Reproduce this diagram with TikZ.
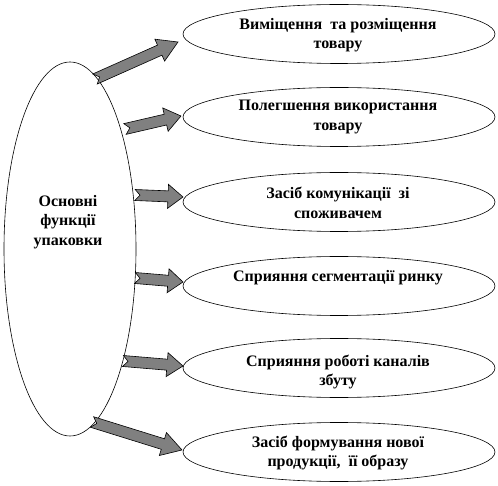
\documentclass[tikz,border=0pt]{standalone}
\usepackage{fontspec}
\setmainfont{Liberation Serif}
\usetikzlibrary{calc,shapes.geometric}
\definecolor{arrgray}{RGB}{128,128,128}
\newcommand\blockarrow[5]{%
  \coordinate (hb) at ($(#2)!#5!(#1)$);
  \coordinate (nt) at ($(#1)!5pt!(#2)$);
  \draw[barr] ($(#1)!#3!90:(#2)$) -- ($(hb)!#3!-90:(#1)$) -- ($(hb)!#4!-90:(#1)$) -- (#2)
    -- ($(hb)!#4!90:(#1)$) -- ($(hb)!#3!90:(#1)$) -- ($(#1)!#3!-90:(#2)$) -- (nt) -- cycle;}
\begin{document}
\begin{tikzpicture}[x=1pt,y=-1pt,
  lbl/.style={font=\bfseries\fontsize{16}{19.5}\selectfont, align=center, inner sep=0pt},
  oval/.style={draw, ellipse, fill=white, line width=0.6pt, minimum width=312pt, minimum height=59pt, inner sep=0pt},
  barr/.style={draw=black, fill=arrgray, line width=0.6pt, line join=miter}]
\useasboundingbox (0,0) rectangle (498,486);
% main ellipse
\node[oval, minimum width=132pt, minimum height=374pt] (main) at (70,249) {};
\node[lbl] (mt) at (68,222) {Основні\\функції\\упаковки};
% right ellipses
\node[oval] (e1) at (339,34) {};
\node[oval] (e2) at (339,117) {};
\node[oval] (e3) at (339,202) {};
\node[oval] (e4) at (339,286) {};
\node[oval] (e5) at (339,368) {};
\node[oval] (e6) at (339,452) {};
\node[lbl] (t1) at (338,35) {Виміщення \ та розміщення\\товару};
\node[lbl] (t2) at (338,117) {Полегшення використання\\товару};
\node[lbl] (t3) at (338,203) {Засіб комунікації \ зі\\споживачем};
\node[lbl] (t4) at (338,278) {Сприяння сегментації ринку};
\node[lbl] (t5) at (338,372) {Сприяння роботі каналів\\збуту};
\node[lbl] (t6) at (338,453) {Засіб формування нової\\продукції, \ її образу};
% arrow ends
\coordinate (s1) at (95,79);
\coordinate (p1) at (178,42);
\coordinate (s2) at (125,129);
\coordinate (p2) at (181,116);
\coordinate (s3) at (135,195);
\coordinate (p3) at (183,197);
\coordinate (s4) at (135,278);
\coordinate (p4) at (183,282);
\coordinate (s5) at (123,361);
\coordinate (p5) at (183,366);
\coordinate (s6) at (92,422);
\coordinate (p6) at (182,450);
\blockarrow{s1}{p1}{5.5pt}{12pt}{20pt}
\blockarrow{s2}{p2}{5.5pt}{12pt}{16pt}
\blockarrow{s3}{p3}{5.5pt}{12pt}{15pt}
\blockarrow{s4}{p4}{5.5pt}{12pt}{15pt}
\blockarrow{s5}{p5}{5.5pt}{12pt}{16pt}
\blockarrow{s6}{p6}{5.5pt}{12pt}{20pt}
\end{tikzpicture}
\end{document}
